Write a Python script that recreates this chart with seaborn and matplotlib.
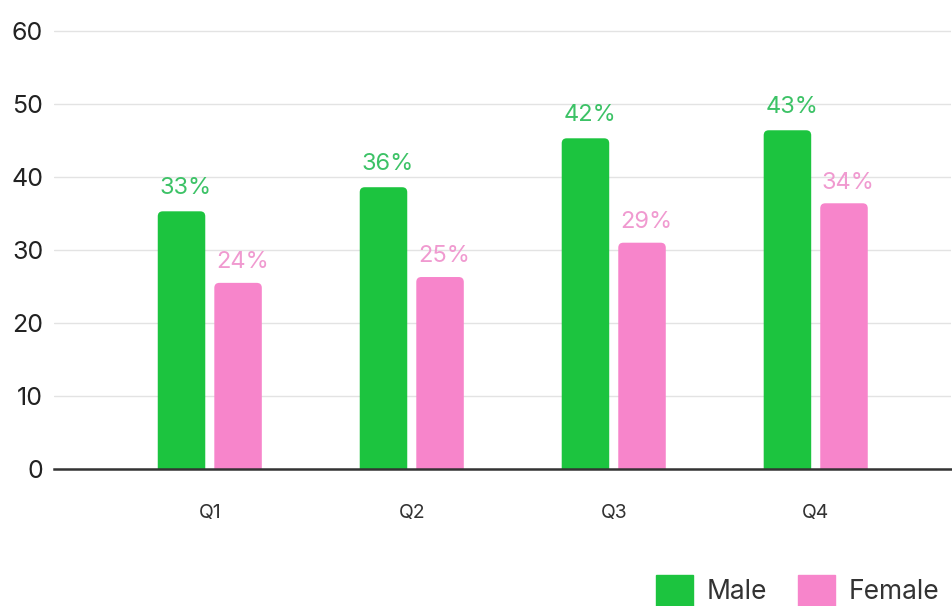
import pandas as pd
import numpy as np
import matplotlib
matplotlib.use('Agg')
import matplotlib.pyplot as plt
from matplotlib.patches import FancyBboxPatch
import seaborn as sns

# Data
quarters = ['Q1', 'Q2', 'Q3', 'Q4']
male_vals = [35.3, 38.6, 45.3, 46.4]
female_vals = [25.5, 26.3, 31.0, 36.4]
male_labels = ['33%', '36%', '42%', '43%']
female_labels = ['24%', '25%', '29%', '34%']

green = '#1cc43f'
pink = '#f785cb'

df = pd.DataFrame({
    'quarter': quarters * 2,
    'value': male_vals + female_vals,
    'sex': ['Male'] * 4 + ['Female'] * 4,
})

sns.set_style('white')
plt.rcParams['font.family'] = ['Inter', 'DejaVu Sans']

fig = plt.figure(figsize=(9.52, 6.06), dpi=100)
ax = fig.add_axes([0.057, 0.226, 0.942, 0.747])

sns.barplot(data=df, x='quarter', y='value', hue='sex',
            palette={'Male': green, 'Female': pink},
            width=0.56, gap=0.16, saturation=1, ax=ax, legend=False)

ax.set_ylim(0, 62)
ax.set_xlim(-0.77, 3.67)

# swap the plain bars for ones with slightly rounded tops
aspect = (1 / 7.3) / (1 / 202)
for cont in ax.containers:
    for bar in cont:
        x, w, h = bar.get_x(), bar.get_width(), bar.get_height()
        rb = FancyBboxPatch((x, -2), w, h + 2,
                            boxstyle='round,pad=0,rounding_size=0.025',
                            mutation_aspect=aspect,
                            facecolor=bar.get_facecolor(), edgecolor='none',
                            zorder=bar.get_zorder())
        ax.add_patch(rb)
        bar.set_visible(False)

ax.set_yticks(range(0, 61, 10))
ax.yaxis.grid(True, color='#e3e3e3', linewidth=1)
ax.set_axisbelow(True)
for s in ['top', 'right', 'left']:
    ax.spines[s].set_visible(False)
ax.spines['bottom'].set_color('#333333')
ax.spines['bottom'].set_linewidth(1.8)
ax.spines['bottom'].set_zorder(5)
ax.tick_params(axis='y', length=0, labelsize=18, labelcolor='#222222', pad=8)
ax.tick_params(axis='x', length=0, labelsize=14, labelcolor='#333333', pad=25)
ax.set_xlabel('')
ax.set_ylabel('')

# value labels over the bars
for cont, labels, col, off in [(ax.containers[0], male_labels, '#3cc266', 9),
                               (ax.containers[1], female_labels, '#f09ad0', 7)]:
    for bar, lab in zip(cont, labels):
        ax.annotate(lab, (bar.get_x() + bar.get_width() / 2, bar.get_height()),
                    xytext=(3, off), textcoords='offset points',
                    ha='center', va='bottom', fontsize=17, color=col)

# legend at bottom right
handles = [plt.Rectangle((0, 0), 1, 1, color=green),
           plt.Rectangle((0, 0), 1, 1, color=pink)]
fig.legend(handles, ['Male', 'Female'], loc='upper left',
           bbox_to_anchor=(643 / 952, 1 - 562 / 606), ncol=2, frameon=False,
           fontsize=19, handlelength=1.4, handleheight=1.4,
           handletextpad=0.5, columnspacing=1.2, borderpad=0,
           labelcolor='#333333')

fig.savefig('out.png', dpi=100)
